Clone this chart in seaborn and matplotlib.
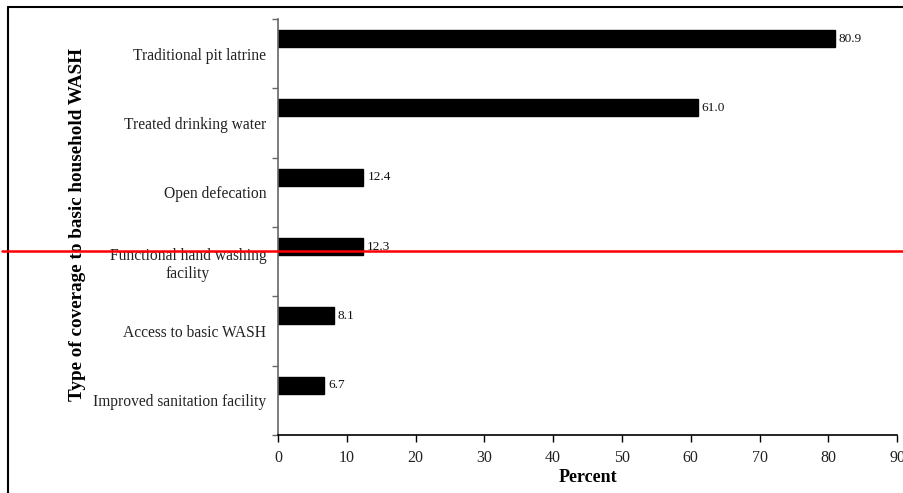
import matplotlib
matplotlib.use("Agg")
import matplotlib.pyplot as plt
from matplotlib.lines import Line2D
import seaborn as sns
import pandas as pd

categories = [
    "Traditional pit latrine",
    "Treated drinking water",
    "Open defecation",
    "Functional hand washing\nfacility",
    "Access to basic WASH",
    "Improved sanitation facility",
]
values = [80.9, 61.0, 12.4, 12.3, 8.1, 6.7]
xticks = [0, 10, 20, 30, 40, 50, 60, 70, 80, 90]

df = pd.DataFrame({"category": categories, "percent": values})

sns.set_theme(style="white")
plt.rcParams["font.family"] = ["Liberation Serif", "DejaVu Serif"]

fig = plt.figure(figsize=(9.04, 4.93), dpi=100)
ax = fig.add_axes([0.3075, 0.1176, 0.685, 0.8439])

sns.barplot(data=df, x="percent", y="category", order=categories,
            orient="h", color="black", width=0.245, saturation=1,
            edgecolor="black", ax=ax)

ax.set_xlim(0, 90)
off = 0.217
ax.set_ylim(len(categories) - 1 + 0.5 + off, -0.5 + off)

ax.set_xticks(xticks)
ax.set_xticklabels([str(t) for t in xticks], fontsize=11.5, color="#222222")
ax.set_yticks([i + off for i in range(len(categories))])
ax.set_yticklabels(categories, fontsize=11.2, color="#222222")
for lbl in ax.get_yticklabels():
    lbl.set_multialignment("center")
ax.set_yticks([i - 0.5 + off for i in range(len(categories) + 1)], minor=True)
ax.tick_params(axis="y", which="major", length=0, pad=8.5)
ax.tick_params(axis="y", which="minor", length=4, width=1, direction="out",
               color="#666666", left=True)
ax.tick_params(axis="x", which="major", length=5, width=1, direction="out",
               color="black", bottom=True, pad=6)

for s in ["top", "right"]:
    ax.spines[s].set_visible(False)
ax.spines["left"].set_color("#666666")
ax.spines["bottom"].set_color("black")
ax.spines["left"].set_linewidth(1.2)
ax.spines["bottom"].set_linewidth(1.2)

ax.bar_label(ax.containers[0], fmt="%.1f", padding=3, fontsize=9.5, color="#111111")

ax.set_xlabel("Percent", fontsize=13, fontweight="bold", color="black")
ax.set_ylabel("Type of coverage to basic household WASH", fontsize=13.8,
              fontweight="bold", color="black")
ax.xaxis.set_label_coords(0.5, -0.082)
ax.yaxis.set_label_coords(-0.31, 0.505)

# figure frame (left and top visible)
W, H = 904, 493
fig.add_artist(Line2D([8 / W, 8 / W], [0, 1 - 7 / H], transform=fig.transFigure,
                      color="black", lw=1.5))
fig.add_artist(Line2D([8 / W, 1], [1 - 7 / H, 1 - 7 / H], transform=fig.transFigure,
                      color="black", lw=1.5))
# red horizontal marker line
fig.add_artist(Line2D([2 / W, 1], [1 - 251 / H, 1 - 251 / H], transform=fig.transFigure,
                      color="red", lw=1.8))

fig.savefig("out.png", dpi=100)
